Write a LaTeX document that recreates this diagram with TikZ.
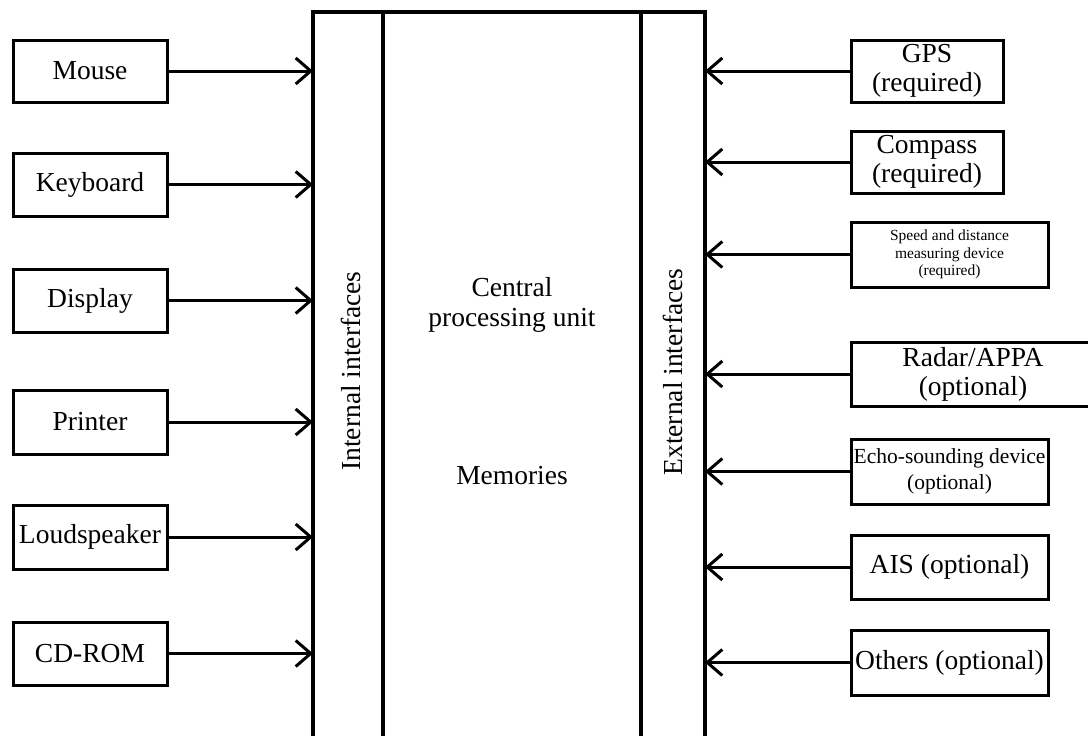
\documentclass[tikz,border=0pt]{standalone}
\usepackage{fontspec}
\setmainfont{Liberation Serif}
\usetikzlibrary{arrows.meta}
\begin{document}
\begin{tikzpicture}[x=1pt,y=-1pt,
  dev/.style={draw, line width=3pt, inner sep=0pt, align=center,
    font=\fontsize{27.5}{29}\selectfont},
  link/.style={line width=3pt,
    -{Straight Barb[length=15pt,width=26pt,line width=3pt]}},
  frame/.style={line width=3.2pt},
  lbl/.style={font=\fontsize{27.5}{30}\selectfont, align=center}]
\useasboundingbox (0,0) rectangle (1088,736);
\clip (0,0) rectangle (1088,736);

% main unit: interface columns and the processing section
\draw[frame] (313,745) -- (313,12) -- (705,12) -- (705,745);
\draw[frame] (383,12) -- (383,745);
\draw[frame] (641,12) -- (641,745);
\coordinate (inbar) at (313,12);
\coordinate (exbar) at (705,12);

\node[lbl, rotate=90] (inlbl) at (351,371) {Internal interfaces};
\node[lbl, rotate=90] (exlbl) at (673,372) {External interfaces};
\node[lbl] (cpu) at (512,305) {Central\\processing unit};
\node[lbl] (mem) at (512,476) {Memories};

% peripherals on the internal side
\node[dev, minimum width=154pt, minimum height=62pt] (mouse) at (90,71) {Mouse};
\node[dev, minimum width=154pt, minimum height=63pt] (keyb) at (90,184.5) {Keyboard};
\node[dev, minimum width=154pt, minimum height=63pt] (disp) at (90,300.5) {Display};
\node[dev, minimum width=154pt, minimum height=64pt] (prn) at (90,422) {Printer};
\node[dev, minimum width=154pt, minimum height=64pt] (spk) at (90,537) {Loudspeaker};
\node[dev, minimum width=154pt, minimum height=63pt] (cd) at (90,653.5) {CD-ROM};

\foreach \n in {mouse,keyb,disp,prn,spk,cd}
  \draw[link] (\n.east) -- (\n.east -| inbar);

% sensors on the external side
\node[dev, minimum width=152pt, minimum height=62pt] (gps) at (927,71) {GPS\\(required)};
\node[dev, minimum width=152pt, minimum height=62pt] (comp) at (927,162) {Compass\\(required)};
\node[dev, minimum width=197pt, minimum height=65pt,
  font=\fontsize{15.5}{17.5}\selectfont] (sdme) at (949.5,254.5)
  {Speed and distance\\measuring device\\(required)};
\node[dev, minimum width=244pt, minimum height=64pt] (radar) at (973,374) {Radar/APPA\\(optional)};
\node[dev, minimum width=197pt, minimum height=65pt,
  font=\fontsize{21.5}{26}\selectfont] (echo) at (949.5,471.5)
  {Echo-sounding device\\(optional)};
\node[dev, minimum width=197pt, minimum height=64pt] (ais) at (949.5,567) {AIS (optional)};
\node[dev, minimum width=197pt, minimum height=65pt] (oth) at (949.5,662.5) {Others (optional)};

\foreach \n in {gps,comp,sdme,radar,echo,ais,oth}
  \draw[link] (\n.west) -- (\n.west -| exbar);
\end{tikzpicture}
\end{document}
